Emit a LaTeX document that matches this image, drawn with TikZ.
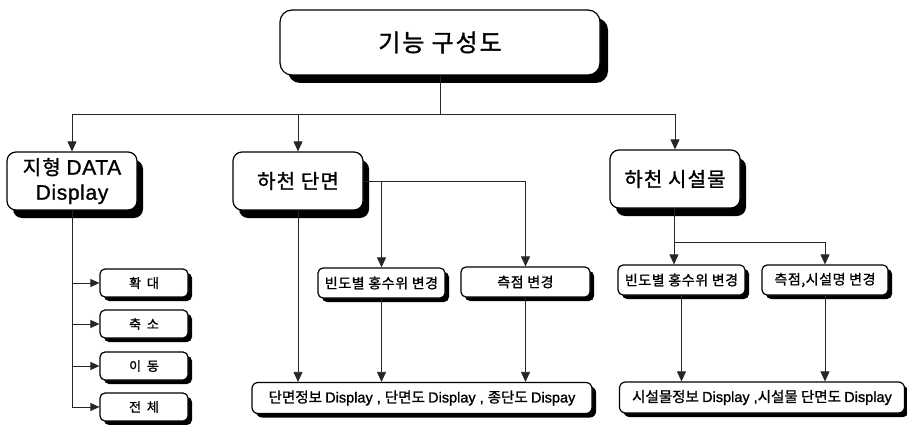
\documentclass[tikz,border=0pt]{standalone}
\usepackage{fontspec}
\setmainfont{Noto Sans CJK KR}[FakeBold=1.2,BoldFont=Noto Sans CJK KR]
\newfontfamily\lat{Liberation Sans}[FakeBold=1.2]
\usetikzlibrary{shadows,arrows.meta}
\newcommand{\ls}[1]{\addfontfeatures{LetterSpace=#1}}
\begin{document}
\begin{tikzpicture}[x=1pt,y=-1pt,
  box/.style={draw, line width=1.2pt, fill=white, align=center, inner sep=0pt,
    rounded corners=#1},
  shbig/.style={drop shadow={shadow xshift=8pt, shadow yshift=-8pt, fill=black, opacity=1}},
  shmid/.style={drop shadow={shadow xshift=6pt, shadow yshift=-8pt, fill=black, opacity=1}},
  shsm/.style={drop shadow={shadow xshift=4pt, shadow yshift=-4pt, fill=black, opacity=1}},
  conn/.style={line width=0.8pt, draw=black!85},
  arr/.style={conn, -{Triangle[length=10pt,width=9pt]}},
  sarr/.style={conn, -{Triangle[length=9pt,width=8pt]}},
  tfont/.style={font=\fontsize{24}{28}\selectfont\ls{8}},
  mfont/.style={font=\fontsize{20}{25}\selectfont\ls{6}},
  sfont/.style={font=\fontsize{13}{15}\selectfont},
  bfont/.style={font=\fontsize{14}{16}\selectfont\ls{4}},
  rfont/.style={font=\fontsize{14.5}{16}\selectfont},
]
\useasboundingbox (0,0) rectangle (907,425);
\fill[white] (0,0) rectangle (907,425);

\node[box=12pt, shbig, minimum width=320pt, minimum height=65pt, tfont] (top) at (440,42.5) {기능 구성도};

\node[box=9pt, shmid, minimum width=130pt, minimum height=58pt, mfont] (jh) at (72,181) {지형 {\lat\fontsize{21}{25}\selectfont\ls{3}DATA}\\{\lat\fontsize{21}{25}\selectfont\ls{3}Display}};
\node[box=9pt, shmid, minimum width=130pt, minimum height=58pt, mfont] (dm) at (298,181) {하천 단면};
\node[box=9pt, shmid, minimum width=130pt, minimum height=58pt, mfont] (ss) at (675,179) {하천 시설물};

\node[box=5pt, shsm, minimum width=88pt, minimum height=28pt, sfont] (s1) at (144,283) {확\ \ 대};
\node[box=5pt, shsm, minimum width=88pt, minimum height=28pt, sfont] (s2) at (144,324) {축\ \ 소};
\node[box=5pt, shsm, minimum width=88pt, minimum height=28pt, sfont] (s3) at (144,366) {이\ \ 동};
\node[box=5pt, shsm, minimum width=88pt, minimum height=28pt, sfont] (s4) at (144,407) {전\ \ 체};

\node[box=5pt, shsm, minimum width=127pt, minimum height=30pt, bfont] (b1) at (381.5,283) {빈도별 홍수위 변경};
\node[box=5pt, shsm, minimum width=129pt, minimum height=30pt, bfont] (m1) at (525.5,282) {측점 변경};
\node[box=5pt, shsm, minimum width=127pt, minimum height=30pt, bfont] (b2) at (681.5,280) {빈도별 홍수위 변경};
\node[box=5pt, shsm, minimum width=126pt, minimum height=30pt, bfont] (m2) at (825,280) {측점,시설명 변경};

\node[box=6pt, shsm, minimum width=340pt, minimum height=31pt, rfont] (r1) at (422,398) {단면정보 {\lat Display , }단면도 {\lat Display , }종단도 {\lat Dispay}};
\node[box=6pt, shsm, minimum width=285pt, minimum height=31pt, rfont] (r2) at (762,397.5) {시설물정보 {\lat Display ,}시설물 단면도 {\lat Display}};

% top level connectors
\coordinate (hb) at (440,114);
\draw[conn] (top.south) -- (hb);
\draw[arr] (hb) -| (jh.north);
\draw[arr] (hb) -| (dm.north);
\draw[arr] (hb) -| (ss.north);

% terrain branch
\draw[sarr] (jh.south) |- (s1.west);
\draw[sarr] (jh.south) |- (s2.west);
\draw[sarr] (jh.south) |- (s3.west);
\draw[sarr] (jh.south) |- (s4.west);

% section branch
\draw[arr] (dm.east) -| (b1.north);
\draw[arr] (dm.east) -| (m1.north);
\draw[arr] (dm.south) -- (dm.south |- r1.north);
\draw[arr] (b1.south) -- (b1.south |- r1.north);
\draw[arr] (m1.south) -- (m1.south |- r1.north);

% facility branch
\coordinate (sj) at (674,242);
\draw[arr] (ss.south -| sj) -- (sj |- b2.north);
\draw[arr] (sj) -| (m2.north);
\draw[arr] (b2.south) -- (b2.south |- r2.north);
\draw[arr] (m2.south) -- (m2.south |- r2.north);
\end{tikzpicture}
\end{document}
